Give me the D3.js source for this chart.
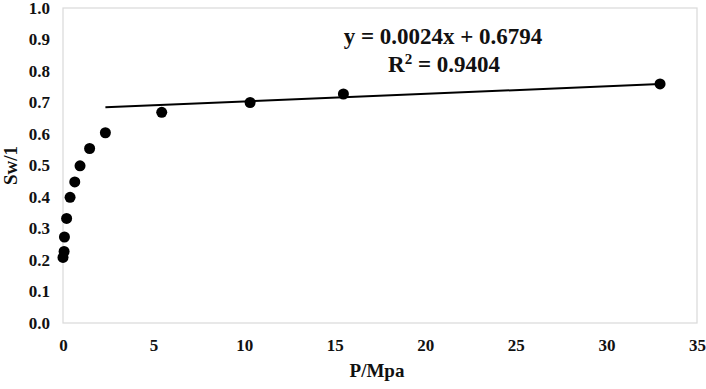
<!DOCTYPE html>
<html>
<head>
<meta charset="utf-8">
<script src="https://cdn.jsdelivr.net/npm/d3@7"></script>
<style>
  body { margin: 0; background: #fff; }
  text { font-family: "Liberation Serif", "Times New Roman", serif; font-weight: bold; fill: #111; }
</style>
</head>
<body>
<div id="chart"></div>
<script>
// measured points, P (MPa) vs Sw
const pressure = [0.0, 0.06, 0.08, 0.2, 0.39, 0.65, 0.94, 1.47, 2.34, 5.45, 10.33, 15.48, 32.96];
const saturation = [0.208, 0.227, 0.273, 0.332, 0.399, 0.448, 0.499, 0.554, 0.604, 0.669, 0.700, 0.727, 0.759];

// linear fit over the high-pressure part
const fitSlope = 0.0024;
const fitIntercept = 0.6794;
const fitRange = [2.34, 32.96];

const xTicks = [0, 5, 10, 15, 20, 25, 30, 35];
const yTicks = [0, 0.1, 0.2, 0.3, 0.4, 0.5, 0.6, 0.7, 0.8, 0.9, 1.0];

let width = 706, height = 389;
let margin = { top: 8, right: 9, bottom: 66, left: 63 };

let svg = d3.select("#chart").append("svg")
  .attr("width", width)
  .attr("height", height);

let x = d3.scaleLinear().domain([0, 35]).range([margin.left, width - margin.right]);
let y = d3.scaleLinear().domain([0, 1]).range([height - margin.bottom, margin.top]);

// plot box
svg.append("rect")
  .attr("x", x(0))
  .attr("y", y(1))
  .attr("width", x(35) - x(0))
  .attr("height", y(0) - y(1))
  .attr("fill", "none")
  .attr("stroke", "#d9d9d9")
  .attr("stroke-width", 1.2);

// axes (labels only, no tick marks)
let xAxis = svg.append("g")
  .attr("transform", `translate(0,${y(0)})`)
  .call(d3.axisBottom(x).tickValues(xTicks).tickSize(0).tickPadding(16).tickFormat(d3.format("d")));
xAxis.select(".domain").remove();
xAxis.selectAll("text").attr("font-size", 17).attr("font-family", null);

let yAxis = svg.append("g")
  .attr("transform", `translate(${x(0)},0)`)
  .call(d3.axisLeft(y).tickValues(yTicks).tickSize(0).tickPadding(13).tickFormat(d3.format(".1f")));
yAxis.select(".domain").remove();
yAxis.selectAll("text").attr("font-size", 17).attr("font-family", null);

// axis titles
svg.append("text")
  .attr("x", 377)
  .attr("y", 377)
  .attr("text-anchor", "middle")
  .attr("font-size", 19)
  .text("P/Mpa");

svg.append("text")
  .attr("transform", `translate(17,${y(0.5)}) rotate(-90)`)
  .attr("text-anchor", "middle")
  .attr("font-size", 19)
  .text("Sw/1");

// trend line
svg.append("line")
  .attr("x1", x(fitRange[0]))
  .attr("y1", y(fitSlope * fitRange[0] + fitIntercept))
  .attr("x2", x(fitRange[1]))
  .attr("y2", y(fitSlope * fitRange[1] + fitIntercept))
  .attr("stroke", "#000")
  .attr("stroke-width", 2);

// points
svg.append("g").selectAll("circle")
  .data(pressure.map((p, i) => ({ p: p, s: saturation[i] })))
  .enter().append("circle")
  .attr("cx", d => x(d.p))
  .attr("cy", d => y(d.s))
  .attr("r", 5.5)
  .attr("fill", "#000");

// equation
svg.append("text")
  .attr("x", 443)
  .attr("y", 44)
  .attr("text-anchor", "middle")
  .attr("font-size", 23)
  .text(`y = ${fitSlope}x + ${fitIntercept}`);

let r2 = svg.append("text")
  .attr("x", 444)
  .attr("y", 72)
  .attr("text-anchor", "middle")
  .attr("font-size", 23);
r2.append("tspan").text("R");
r2.append("tspan").attr("dy", -8).attr("font-size", 15).text("2");
r2.append("tspan").attr("dy", 8).text(" = 0.9404");
</script>
</body>
</html>
